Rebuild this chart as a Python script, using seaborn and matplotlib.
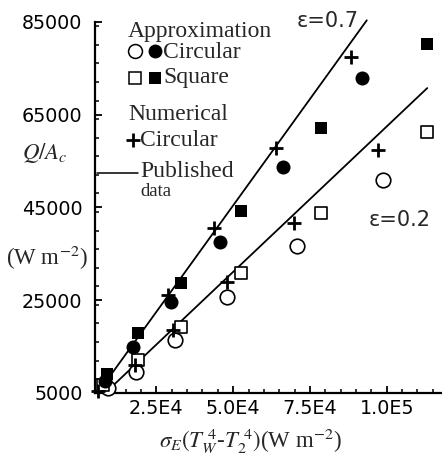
import matplotlib
matplotlib.use('Agg')
import matplotlib.pyplot as plt
import seaborn as sns
from matplotlib.ticker import FixedLocator, MultipleLocator

# ---------------- data ----------------
circ_fill_x = [8100, 17400, 29600, 45600, 66300, 91800]
circ_fill_y = [7600, 15000, 24700, 37600, 53800, 72800]
sq_fill_x = [8800, 19100, 32900, 52600, 78600, 113000]
sq_fill_y = [9100, 18000, 28600, 44200, 62200, 80200]
circ_open_x = [9300, 18300, 30900, 48000, 70700, 98900]
circ_open_y = [6100, 9600, 16400, 25700, 36700, 50900]
sq_open_x = [7600, 19100, 32900, 52600, 78600, 113200]
sq_open_y = [6700, 12100, 19300, 30900, 43800, 61300]
num_x = [6000, 18000, 28800, 30400, 43900, 48000, 64000, 69900, 88300, 97200]
num_y = [5500, 11000, 26100, 18600, 40500, 29000, 57700, 41700, 77500, 57400]
line07_x = [7000, 93500]
line07_y = [6000, 85300]
line02_x = [10400, 113200]
line02_y = [6300, 70700]
x_ticks = [25000, 50000, 75000, 100000]
x_tick_labels = ['2.5E4', '5.0E4', '7.5E4', '1.0E5']
y_ticks = [5000, 25000, 45000, 65000, 85000]
y_tick_labels = ['5000', '25000', '45000', '65000', '85000']

sns.set_theme(style='ticks')
plt.rcParams['font.family'] = ['DejaVu Sans']
plt.rcParams['mathtext.fontset'] = 'stix'

W, H = 442, 463
fig = plt.figure(figsize=(W / 100, H / 100), dpi=100)
fig.patch.set_facecolor('white')
L, R, T, B = 95, 442, 21.7, 393
ax = fig.add_axes([L / W, 1 - B / H, (R - L) / W, (B - T) / H])
ax.set_facecolor('white')

# lines
sns.lineplot(x=line07_x, y=line07_y, ax=ax, color='black', lw=1.3, clip_on=False)
sns.lineplot(x=line02_x, y=line02_y, ax=ax, color='black', lw=1.3, clip_on=False)

# points
sns.scatterplot(x=circ_open_x, y=circ_open_y, ax=ax, marker='o', s=110,
                color='white', edgecolor='black', linewidth=1.2, zorder=3, clip_on=False)
sns.scatterplot(x=sq_open_x, y=sq_open_y, ax=ax, marker='s', s=70,
                color='white', edgecolor='black', linewidth=1.2, zorder=3, clip_on=False)
sns.scatterplot(x=circ_fill_x, y=circ_fill_y, ax=ax, marker='o', s=102,
                color='black', edgecolor='black', linewidth=0, zorder=4, clip_on=False)
sns.scatterplot(x=sq_fill_x, y=sq_fill_y, ax=ax, marker='s', s=74,
                color='black', edgecolor='black', linewidth=0, zorder=4, clip_on=False)
sns.scatterplot(x=num_x, y=num_y, ax=ax, marker='+', s=95,
                color='black', linewidth=2, zorder=5, clip_on=False)

ax.set_xlim(5000, 118000)
ax.set_ylim(5000, 85000)
ax.xaxis.set_major_locator(FixedLocator(x_ticks))
ax.set_xticklabels(x_tick_labels)
ax.xaxis.set_minor_locator(MultipleLocator(5000))
ax.yaxis.set_major_locator(FixedLocator(y_ticks))
ax.set_yticklabels(y_tick_labels)
ax.yaxis.set_minor_locator(MultipleLocator(4000))
ax.tick_params(which='major', direction='in', length=5, width=1.3, colors='black',
               labelsize=13.8, pad=4)
ax.tick_params(which='minor', direction='in', length=3, width=1.1, colors='black')
ax.tick_params(axis='y', which='major', pad=9)
for s in ['top', 'right']:
    ax.spines[s].set_visible(False)
for s in ['left', 'bottom']:
    ax.spines[s].set_linewidth(1.6)
    ax.spines[s].set_color('black')
ax.set_xlabel('')
ax.set_ylabel('')

serif = 'Liberation Serif'

def fpt(px, py):
    return px / W, 1 - py / H

# axis labels
fig.text(*fpt(250, 441), r'$\sigma_E(T_W^{\ 4}$-$T_2^{\ 4})$(W m$^{-2}$)', ha='center',
         va='center', fontsize=16.5, family=serif)
fig.text(*fpt(45, 153), r'$Q/A_c$', ha='center', va='center', fontsize=16.5)
fig.text(*fpt(47, 258), r'(W m$^{-2}$)', ha='center', va='center', fontsize=16.5,
         family=serif)

# epsilon labels
fig.text(*fpt(328, 21), 'ε=0.7', ha='center', va='center', fontsize=15)
fig.text(*fpt(400, 220), 'ε=0.2', ha='center', va='center', fontsize=15)

# legend block
fs = 17
fig.text(*fpt(128, 31), 'Approximation', ha='left', va='center', fontsize=fs, family=serif)
fig.text(*fpt(163, 52), 'Circular', ha='left', va='center', fontsize=fs, family=serif)
fig.text(*fpt(163, 78), 'Square', ha='left', va='center', fontsize=fs, family=serif)
fig.text(*fpt(128, 115), 'Numerical', ha='left', va='center', fontsize=fs, family=serif)
fig.text(*fpt(140, 140), 'Circular', ha='left', va='center', fontsize=fs, family=serif)
fig.text(*fpt(140, 171), 'Published', ha='left', va='center', fontsize=fs, family=serif)
fig.text(*fpt(140, 192), 'data', ha='left', va='center', fontsize=13.5, family=serif)

tf = fig.transFigure
def mk(px, py, **kw):
    x, y = fpt(px, py)
    ax.plot([x], [y], transform=tf, clip_on=False, linestyle='none', **kw)

mk(135, 51, marker='o', ms=10, mfc='white', mec='black', mew=1.1)
mk(155, 51, marker='o', ms=10, mfc='black', mec='black', mew=0)
mk(135, 78, marker='s', ms=8.5, mfc='white', mec='black', mew=1.1)
mk(155, 78, marker='s', ms=8.5, mfc='black', mec='black', mew=0)
mk(133, 140, marker='+', ms=10, mec='black', mew=2)
x0, y0 = fpt(97, 173)
x1, _ = fpt(138, 173)
ax.plot([x0, x1], [y0, y0], transform=tf, clip_on=False, color='black', lw=1.1)

fig.savefig('out.png', dpi=100, facecolor='white')
